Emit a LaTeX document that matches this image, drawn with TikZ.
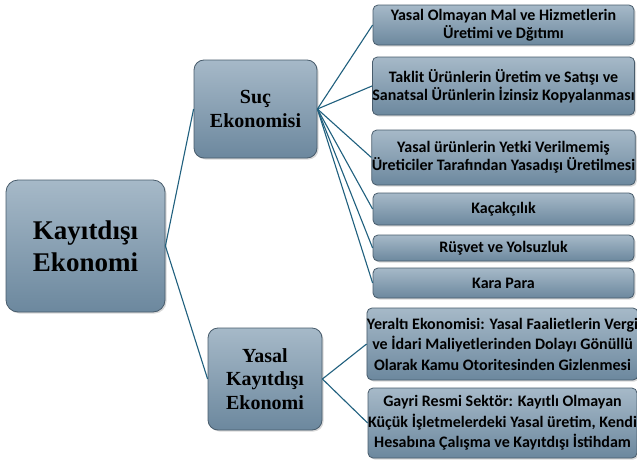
\documentclass[tikz,border=0pt]{standalone}
\usepackage{fontspec}
\setmainfont{Liberation Serif}
\newfontfamily\kutufont{Carlito}
\usetikzlibrary{shadows}

\definecolor{kutuust}{RGB}{166,185,200}
\definecolor{kutualt}{RGB}{108,136,158}
\definecolor{kutucizgi}{RGB}{72,92,108}
\definecolor{baglanti}{RGB}{32,96,126}

\tikzset{
  kutu/.style={draw=kutucizgi, line width=0.8pt, top color=kutuust, bottom color=kutualt,
    align=center, inner sep=0pt, text=black,
    drop shadow={opacity=0.3, shadow xshift=1.5pt, shadow yshift=-1.5pt}},
  anakutu/.style={kutu, rounded corners=12pt, font=\bfseries\fontsize{27}{32}\selectfont},
  orta/.style={kutu, rounded corners=10pt, font=\bfseries\fontsize{20}{23.5}\selectfont},
  yaprak/.style={kutu, rounded corners=5pt, minimum width=261pt,
    font=\kutufont\bfseries\fontsize{16}{18}\selectfont},
  genis/.style={yaprak, minimum width=265pt, font=\kutufont\bfseries\fontsize{16}{20.5}\selectfont},
  bag/.style={draw=baglanti, line width=1.1pt}
}

\begin{document}
\begin{tikzpicture}[x=1pt, y=-1pt]
    \useasboundingbox[fill=white] (0,0) rectangle (637,463);
    % sol taraf
    \node[anakutu, minimum width=159pt, minimum height=132pt] (kayitdisi) at (85.5,246) {Kayıtdışı\\Ekonomi};
    \node[orta, minimum width=123pt, minimum height=98pt] (suc) at (255.5,109) {Suç\\Ekonomisi};
    \node[orta, minimum width=114pt, minimum height=102pt] (yasal) at (265,379) {Yasal\\Kayıtdışı\\Ekonomi};
    % suç ekonomisi kutuları
    \node[yaprak, minimum height=40pt] (mal) at (503.5,25) {Yasal Olmayan Mal ve Hizmetlerin\\Üretimi ve Dğıtımı};
    \node[yaprak, minimum height=58pt] (taklit) at (503.5,86) {Taklit Ürünlerin Üretim ve Satışı ve\\Sanatsal Ürünlerin İzinsiz Kopyalanması};
    \node[yaprak, minimum height=55pt] (yetki) at (503.5,157.5) {Yasal ürünlerin Yetki Verilmemiş\\Üreticiler Tarafından Yasadışı Üretilmesi};
    \node[yaprak, minimum height=32pt] (kacak) at (503.5,209) {Kaçakçılık};
    \node[yaprak, minimum height=26pt] (rusvet) at (503.5,248) {Rüşvet ve Yolsuzluk};
    \node[yaprak, minimum height=30pt] (kara) at (503.5,283) {Kara Para};
    % yasal kayıtdışı ekonomi kutuları
    \node[genis, minimum height=72pt] (yeralti) at (502.5,344) {Yeraltı Ekonomisi: Yasal Faalietlerin Vergi\\ve İdari Maliyetlerinden Dolayı Gönüllü\\Olarak Kamu Otoritesinden Gizlenmesi};
    \node[genis, minimum height=70pt] (gayri) at (502.5,423) {Gayri Resmi Sektör: Kayıtlı Olmayan\\Küçük İşletmelerdeki Yasal üretim, Kendi\\Hesabına Çalışma ve Kayıtdışı İstihdam};
    % bağlantılar
    \draw[bag] (kayitdisi.east) edge (suc.west);
    \draw[bag] (kayitdisi.east) edge (yasal.west);
    \foreach \hedef in {mal, taklit, yetki, kacak, rusvet, kara}
        \draw[bag] (suc.east) -- (\hedef.west);
    \foreach \hedef in {yeralti, gayri}
        \draw[bag] (yasal.east) -- (\hedef.west);
\end{tikzpicture}
\end{document}
